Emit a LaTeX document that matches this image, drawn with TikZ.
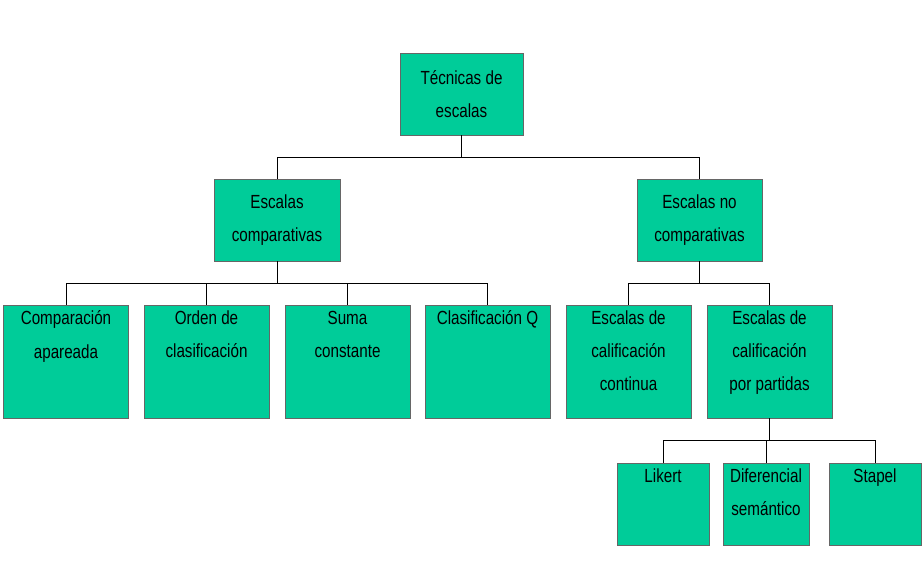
\documentclass[tikz,border=0pt]{standalone}
\usepackage{fontspec}
\setmainfont{Liberation Sans}[FakeStretch=0.8]
\begin{document}
\begin{tikzpicture}[x=1pt,y=-1pt,
  box/.style={draw=black!60, line width=0.8pt, fill={rgb,255:red,0;green,204;blue,153}, inner sep=0pt, align=center, font=\fontsize{19}{33}\selectfont},
  conn/.style={draw=black, line width=0.7pt}]
\useasboundingbox (0,0) rectangle (923,582);
\newcommand{\toptx}[3]{\begin{minipage}[c][#1pt][t]{#2pt}\centering\vspace{6pt}#3\end{minipage}}
% root and level 2
\node[box, minimum width=123pt, minimum height=82pt] (root) at (461.5,94) {Técnicas de\\escalas};
\node[box, minimum width=126pt, minimum height=82pt] (comp) at (277,220) {Escalas\\comparativas};
\node[box, minimum width=125pt, minimum height=82pt] (nocomp) at (699.5,220) {Escalas no\\comparativas};
% level 3
\foreach \n/\x/\t in {ca/66/{Comparación\\apareada}, oc/206.5/{Orden de\\clasificación}, sc/347.5/{Suma\\constante}, cq/487.5/{Clasificación Q}, ec/628.5/{Escalas de\\calificación\\continua}, ep/769.5/{Escalas de\\calificación\\por partidas}}
  \node[box, minimum width=125pt, minimum height=113pt] (\n) at (\x,361.5) {\toptx{113}{123}{\t}};
% level 4
\node[box, minimum width=92pt, minimum height=82pt] (li) at (663,504) {\toptx{82}{90}{Likert}};
\node[box, minimum width=86pt, minimum height=82pt] (di) at (766,504) {\toptx{82}{86}{Diferencial\\semántico}};
\node[box, minimum width=92pt, minimum height=82pt] (st) at (875,504) {\toptx{82}{90}{Stapel}};
% connectors
\draw[conn] (root.south) -- ++(0,22) coordinate (r1);
\draw[conn] (comp.north) |- (r1) -| (nocomp.north);
\draw[conn] (comp.south) -- ++(0,22) coordinate (c1);
\draw[conn] (ca.north) |- (c1) -| (cq.north);
\draw[conn] (oc.north) -- (oc.north |- c1);
\draw[conn] (sc.north) -- (sc.north |- c1);
\draw[conn] (nocomp.south) -- ++(0,22) coordinate (n1);
\draw[conn] (ec.north) |- (n1) -| (ep.north);
\draw[conn] (ep.south) -- ++(0,22) coordinate (p1);
\draw[conn] (li.north) |- (p1) -| (st.north);
\draw[conn] (di.north) -- (di.north |- p1);
\end{tikzpicture}
\end{document}
